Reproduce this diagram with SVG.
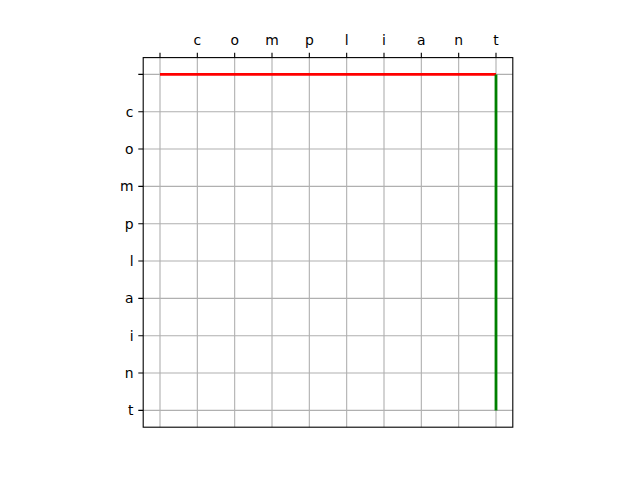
<svg xmlns="http://www.w3.org/2000/svg" width="640" height="480" viewBox="0 0 640 480">
<style>
.grid{stroke:#b0b0b0;stroke-width:1.1;fill:none}
.tick{stroke:#000;stroke-width:1.1}
.lbl{font-family:"DejaVu Sans",sans-serif;font-size:13.9px;fill:#000}
</style>
<rect width="640" height="480" fill="#fff"/>
<g id="grid">
<path class="grid" d="M160,57.6V427.2M197.33,57.6V427.2M234.67,57.6V427.2M272,57.6V427.2M309.33,57.6V427.2M346.67,57.6V427.2M384,57.6V427.2M421.33,57.6V427.2M458.67,57.6V427.2M496,57.6V427.2"/>
<path class="grid" d="M143.2,74.4H512.8M143.2,111.73H512.8M143.2,149.07H512.8M143.2,186.4H512.8M143.2,223.73H512.8M143.2,261.07H512.8M143.2,298.4H512.8M143.2,335.73H512.8M143.2,373.07H512.8M143.2,410.4H512.8"/>
</g>
<g id="connectors">
<path d="M160,74.4H496" stroke="#ff0000" stroke-width="2.8" fill="none"/>
<path d="M496,74.4V410.4" stroke="#008000" stroke-width="2.8" fill="none"/>
</g>
<g id="frame">
<rect x="143.2" y="57.6" width="369.6" height="369.6" fill="none" stroke="#000" stroke-width="1.1"/>
<path class="tick" d="M160,57.6v-4.9M197.33,57.6v-4.9M234.67,57.6v-4.9M272,57.6v-4.9M309.33,57.6v-4.9M346.67,57.6v-4.9M384,57.6v-4.9M421.33,57.6v-4.9M458.67,57.6v-4.9M496,57.6v-4.9"/>
<path class="tick" d="M143.2,74.4h-4.9M143.2,111.73h-4.9M143.2,149.07h-4.9M143.2,186.4h-4.9M143.2,223.73h-4.9M143.2,261.07h-4.9M143.2,298.4h-4.9M143.2,335.73h-4.9M143.2,373.07h-4.9M143.2,410.4h-4.9"/>
</g>
<g id="xlabels" class="lbl" text-anchor="middle">
<text x="197.33" y="45">c</text>
<text x="234.67" y="45">o</text>
<text x="272" y="45">m</text>
<text x="309.33" y="45">p</text>
<text x="346.67" y="45">l</text>
<text x="384" y="45">i</text>
<text x="421.33" y="45">a</text>
<text x="458.67" y="45">n</text>
<text x="496" y="45">t</text>
</g>
<g id="ylabels" class="lbl" text-anchor="end">
<text x="133.5" y="116.8">c</text>
<text x="133.5" y="154.1">o</text>
<text x="133.5" y="191.4">m</text>
<text x="133.5" y="228.8">p</text>
<text x="133.5" y="266.1">l</text>
<text x="133.5" y="303.4">a</text>
<text x="133.5" y="340.8">i</text>
<text x="133.5" y="378.1">n</text>
<text x="133.5" y="415.4">t</text>
</g>
</svg>
